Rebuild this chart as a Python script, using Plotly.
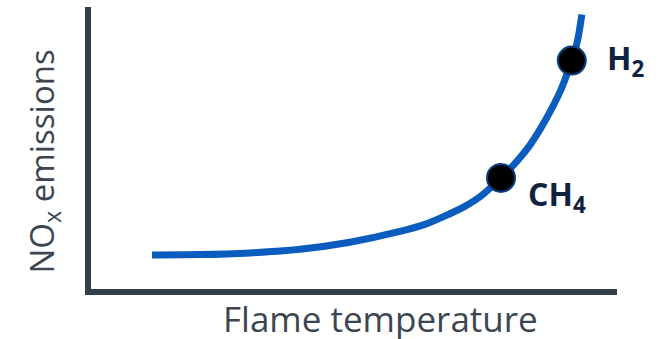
import plotly.graph_objects as go

# Curve: NOx emissions vs flame temperature (arbitrary units 0-100)
temperature = [12.6, 21.6, 31.0, 40.4, 49.8, 59.2, 63.9, 68.6, 71.4, 74.3,
               78.2, 79.9, 81.8, 83.7, 85.5, 87.4, 89.3, 90.4, 91.5, 92.5,
               93.4]
emissions = [12.1, 12.2, 12.8, 14.1, 16.6, 20.4, 22.9, 26.7, 29.3, 32.8,
             39.4, 42.6, 46.6, 51.2, 56.5, 62.8, 70.0, 75.2, 81.0, 87.4,
             97.3]

fuel_labels = ["CH<sub>4</sub>", "H<sub>2</sub>"]
fuel_temperature = [78.2, 91.5]
fuel_emissions = [39.4, 81.0]

AXIS_COLOR = "#333f49"
CURVE_COLOR = "#0a5cbf"
LABEL_COLOR = "#0f2340"
TITLE_COLOR = "#3b4650"
FONT = "Open Sans"

fig = go.Figure()
fig.add_trace(go.Scatter(
    x=temperature, y=emissions, mode="lines",
    line=dict(color=CURVE_COLOR, width=7, shape="spline", smoothing=1.0),
    hoverinfo="skip", showlegend=False,
))
fig.add_trace(go.Scatter(
    x=fuel_temperature, y=fuel_emissions, mode="markers",
    marker=dict(size=28, color="black", line=dict(color="#0b3f80", width=2)),
    showlegend=False,
))

shifts = [(25, -18), (33, 1)]
for lab, xv, yv, (dx, dy) in zip(fuel_labels, fuel_temperature, fuel_emissions, shifts):
    fig.add_annotation(x=xv, y=yv, text="<b>" + lab + "</b>", showarrow=False,
                       xanchor="left", yanchor="middle", xshift=dx, yshift=dy,
                       font=dict(family=FONT, size=32, color=LABEL_COLOR))

fig.add_annotation(x=0.55, y=-0.106, xref="paper", yref="paper",
                   text="Flame temperature", showarrow=False,
                   xanchor="center", yanchor="middle",
                   font=dict(family=FONT, size=35, color=TITLE_COLOR))
fig.add_annotation(x=-0.09, y=0.451, xref="paper", yref="paper",
                   text="NO<sub>x</sub> emissions", showarrow=False, textangle=-90,
                   xanchor="center", yanchor="middle",
                   font=dict(family=FONT, size=33, color=TITLE_COLOR))

axis_common = dict(showgrid=False, zeroline=False, showticklabels=False,
                   ticks="", showline=True, linecolor=AXIS_COLOR, linewidth=6,
                   fixedrange=True)
fig.update_xaxes(range=[1.13, 100], **axis_common)
fig.update_yaxes(range=[0, 100], **axis_common)

fig.update_layout(
    width=664, height=339,
    margin=dict(l=91, r=47, t=7, b=50),
    paper_bgcolor="white", plot_bgcolor="white",
)
fig.write_html("out.html", config={"displayModeBar": False},
               post_script="document.body.style.margin='0';document.body.style.overflow='hidden';")
